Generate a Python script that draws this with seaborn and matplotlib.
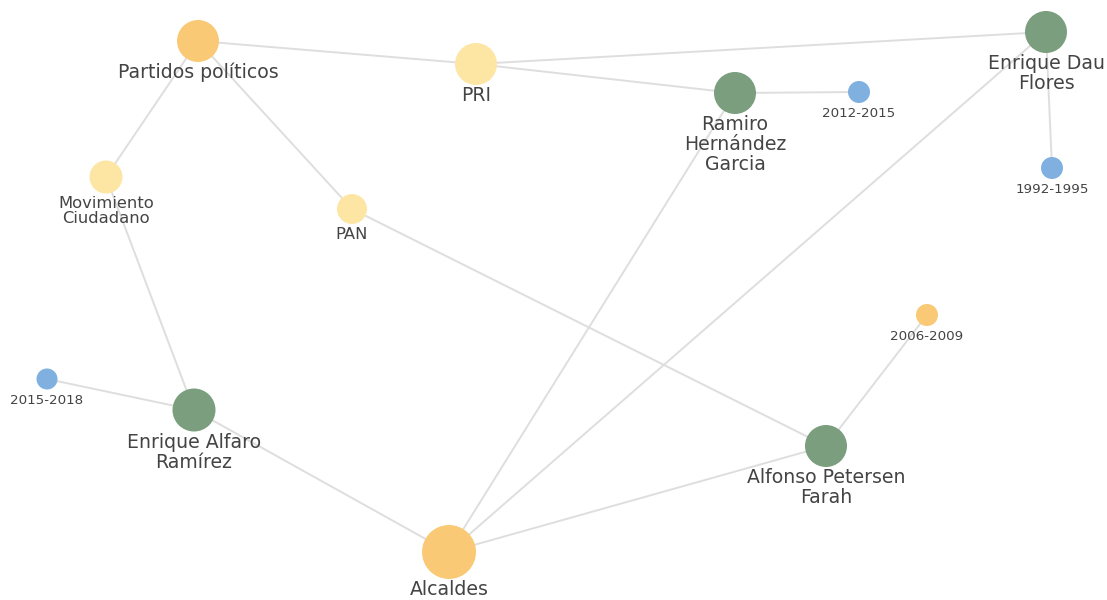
import matplotlib
matplotlib.use("Agg")
import matplotlib.pyplot as plt
import seaborn as sns
import pandas as pd

# nodes of the network
names = ["Partidos políticos", "PRI", "Ramiro\nHernández\nGarcia", "2012-2015",
         "Enrique Dau\nFlores", "1992-1995", "Movimiento\nCiudadano", "PAN",
         "2006-2009", "2015-2018", "Enrique Alfaro\nRamírez",
         "Alfonso Petersen\nFarah", "Alcaldes"]
node_x = [198, 476, 735, 859, 1046, 1052, 106, 352, 927, 47, 194, 826, 449]
node_y = [41, 64, 93, 92, 32, 168, 177, 209, 315, 379, 410, 446, 552]
group = ["categoria", "partido", "persona", "periodo", "persona", "periodo",
         "partido", "partido", "categoria_s", "periodo", "persona", "persona",
         "categoria"]
diam = [42, 42, 42, 22, 42, 22, 33, 30, 22, 21, 43, 42, 54]

edges = [("Partidos políticos", "PRI"), ("PRI", "Enrique Dau\nFlores"),
         ("PRI", "Ramiro\nHernández\nGarcia"), ("Ramiro\nHernández\nGarcia", "2012-2015"),
         ("Enrique Dau\nFlores", "1992-1995"), ("Partidos políticos", "Movimiento\nCiudadano"),
         ("Partidos políticos", "PAN"), ("PAN", "Alfonso Petersen\nFarah"),
         ("Movimiento\nCiudadano", "Enrique Alfaro\nRamírez"),
         ("2015-2018", "Enrique Alfaro\nRamírez"), ("Enrique Alfaro\nRamírez", "Alcaldes"),
         ("Alcaldes", "Ramiro\nHernández\nGarcia"), ("Alcaldes", "Enrique Dau\nFlores"),
         ("Alcaldes", "Alfonso Petersen\nFarah"), ("Alfonso Petersen\nFarah", "2006-2009")]

palette = {"categoria": "#F9C975", "categoria_s": "#F9C975", "partido": "#FDE6A4",
           "persona": "#7A9E7E", "periodo": "#7FB0E0"}

df = pd.DataFrame({"name": names, "x": node_x, "y": node_y, "group": group, "d": diam})
df["s"] = (df["d"] * 0.72) ** 2
pos = df.set_index("name")

fig = plt.figure(figsize=(11.07, 6), dpi=100)
ax = fig.add_axes([0, 0, 1, 1])

for a, b in edges:
    ax.plot([pos.loc[a, "x"], pos.loc[b, "x"]], [pos.loc[a, "y"], pos.loc[b, "y"]],
            color="#DEDEDE", lw=1.4, zorder=1)

sns.scatterplot(data=df, x="x", y="y", hue="group", palette=palette, size="s",
                sizes=(df["s"].min(), df["s"].max()), legend=False,
                edgecolor="none", ax=ax, zorder=2)

for _, r in df.iterrows():
    if r["d"] < 25:
        fs, gap, ls = 9.7, 4, 1.0    # year nodes
    elif r["d"] < 35:
        fs, gap, ls = 11.8, 3, 0.97  # small party nodes
    else:
        fs, gap, ls = 13.6, 1, 1.07
    ax.text(r["x"], r["y"] + r["d"] / 2 + gap, r["name"], ha="center", va="top",
            fontsize=fs, color="#444444", linespacing=ls, zorder=3)

ax.set_xlim(0, 1107)
ax.set_ylim(600, 0)
ax.axis("off")
fig.savefig("out.png", dpi=100, facecolor="white")
